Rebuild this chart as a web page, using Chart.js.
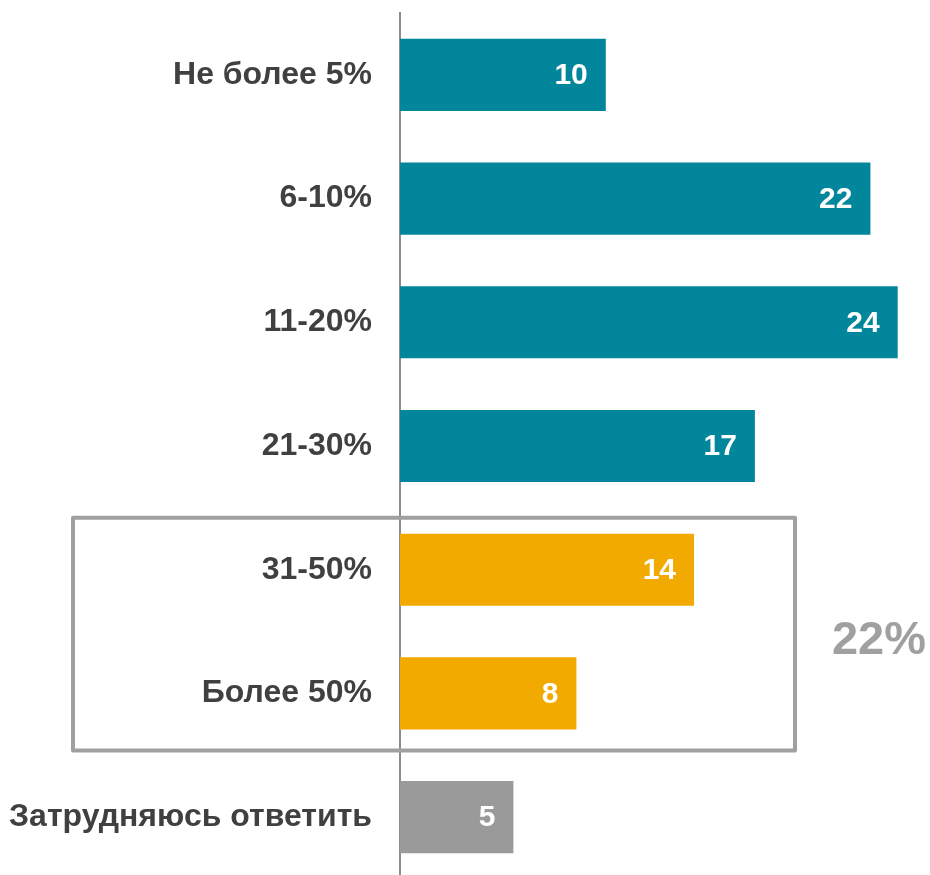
<!DOCTYPE html>
<html>
<head>
<meta charset="utf-8">
<script src="https://cdn.jsdelivr.net/npm/chart.js@4"></script>
<style>
  html, body { margin: 0; padding: 0; background: #fff; overflow: hidden; }
  #wrap { width: 930px; height: 879px; }
</style>
</head>
<body>
<div id="wrap"><canvas id="shareChart"></canvas></div>
<script>
// Answer categories and shares (%)
const categories = ["Не более 5%", "6-10%", "11-20%", "21-30%", "31-50%", "Более 50%", "Затрудняюсь ответить"];
const shares = [9.8, 22.4, 23.7, 16.9, 14.0, 8.4, 5.4];
const barColors = ["#02869b", "#02869b", "#02869b", "#02869b", "#f2aa00", "#f2aa00", "#9a9a9a"];
const groupTotal = "22%";

const FONT = "'Liberation Sans', Arial, sans-serif";

// white value labels inside the bar ends + the grey frame around 31-50% / >50%
const overlay = {
  id: "overlay",
  afterDatasetsDraw(chart) {
    const ctx = chart.ctx;
    const bars = chart.getDatasetMeta(0).data;
    ctx.save();
    ctx.font = "bold 30px " + FONT;
    ctx.fillStyle = "#ffffff";
    ctx.textAlign = "right";
    ctx.textBaseline = "middle";
    bars.forEach((bar, i) => {
      ctx.fillText(String(Math.round(shares[i])), bar.x - 18, bar.y + 1);
    });

    const top = bars[4].y - 52;
    const bottom = bars[5].y + 57;
    ctx.strokeStyle = "#a0a0a0";
    ctx.lineWidth = 4;
    ctx.lineJoin = "round";
    ctx.strokeRect(73, top, 722, bottom - top);

    ctx.font = "bold 47px " + FONT;
    ctx.fillStyle = "#a0a0a0";
    ctx.textAlign = "center";
    ctx.textBaseline = "middle";
    ctx.fillText(groupTotal, 879, (top + bottom) / 2 + 7);
    ctx.restore();
  }
};

new Chart(document.getElementById("shareChart"), {
  type: "bar",
  data: {
    labels: categories,
    datasets: [{
      data: shares,
      backgroundColor: barColors,
      barPercentage: 0.583,
      categoryPercentage: 1
    }]
  },
  options: {
    indexAxis: "y",
    responsive: true,
    maintainAspectRatio: false,
    animation: false,
    layout: { padding: { top: 13, right: 5, bottom: 0, left: 0 } },
    plugins: { legend: { display: false }, tooltip: { enabled: false } },
    scales: {
      x: { display: false, min: 0, max: 25 },
      y: {
        afterFit(scale) {
          scale.width = 400;
          scale.paddingTop = 0;
          scale.paddingBottom = 0;
        },
        grid: { display: false, drawTicks: false },
        border: { display: true, color: "#8c8c8c", width: 2 },
        ticks: {
          padding: 28,
          color: "#404040",
          font: { family: FONT, size: 32, weight: "bold" }
        }
      }
    }
  },
  plugins: [overlay]
});
</script>
</body>
</html>
